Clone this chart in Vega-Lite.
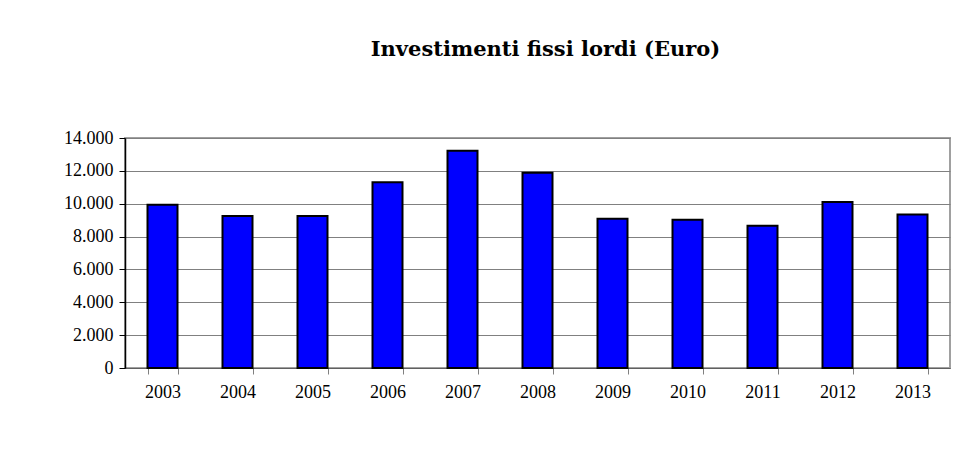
{
  "$schema": "https://vega.github.io/schema/vega-lite/v6.json",
  "width": 825,
  "height": 230,
  "autosize": {"type": "none"},
  "padding": {"left": 125, "top": 138, "right": 16, "bottom": 83},
  "background": "white",
  "title": {
    "text": "Investimenti fissi lordi (Euro)",
    "font": "DejaVu Serif",
    "fontSize": 21,
    "fontWeight": "bold",
    "color": "black",
    "anchor": "middle",
    "baseline": "alphabetic",
    "offset": 52,
    "dx": 8
  },
  "data": {
    "values": [
      {"anno": "2003", "valore": 9940},
      {"anno": "2004", "valore": 9250},
      {"anno": "2005", "valore": 9250},
      {"anno": "2006", "valore": 11300},
      {"anno": "2007", "valore": 13220},
      {"anno": "2008", "valore": 11890},
      {"anno": "2009", "valore": 9090},
      {"anno": "2010", "valore": 9030},
      {"anno": "2011", "valore": 8660},
      {"anno": "2012", "valore": 10100},
      {"anno": "2013", "valore": 9350}
    ]
  },
  "mark": {"type": "bar", "fill": "#0000FF", "stroke": "black", "strokeWidth": 2},
  "encoding": {
    "x": {
      "field": "anno",
      "type": "ordinal",
      "scale": {"paddingInner": 0.6, "paddingOuter": 0.3},
      "axis": {
        "title": null,
        "labelAngle": 0,
        "labelFont": "Liberation Serif",
        "labelFontSize": 18,
        "labelColor": "black",
        "labelPadding": 9,
        "tickBand": "extent",
        "tickSize": 6,
        "tickColor": "#808080",
        "domainColor": "#606060",
        "domainWidth": 1,
        "grid": false
      }
    },
    "y": {
      "field": "valore",
      "type": "quantitative",
      "scale": {"domain": [0, 14000], "nice": false},
      "axis": {
        "title": null,
        "values": [0, 2000, 4000, 6000, 8000, 10000, 12000, 14000],
        "labelExpr": "replace(format(datum.value, ','), ',', '.')",
        "labelFont": "Liberation Serif",
        "labelFontSize": 18,
        "labelColor": "black",
        "labelPadding": 6,
        "tickSize": 6,
        "tickColor": "black",
        "domainColor": "black",
        "domainWidth": 1.5,
        "grid": true,
        "gridColor": "#808080",
        "gridWidth": 1
      }
    }
  },
  "config": {
    "view": {"stroke": "#a0a0a0", "strokeWidth": 2}
  }
}
